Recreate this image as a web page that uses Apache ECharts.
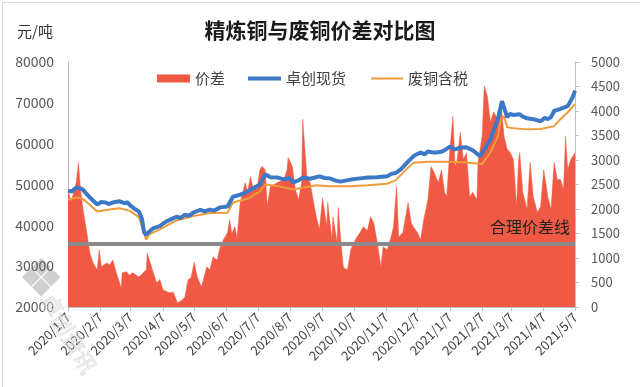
<!DOCTYPE html>
<html>
<head>
<meta charset="utf-8">
<script src="https://cdn.jsdelivr.net/npm/echarts@6/dist/echarts.min.js"></script>
<style>html,body{margin:0;padding:0;background:#fff}#c{width:640px;height:387px}</style>
</head>
<body>
<div id="c"></div>
<script>
// ---- data ----
const tickDates = ['2020-01-07','2020-02-07','2020-03-07','2020-04-07','2020-05-07','2020-06-07','2020-07-07','2020-08-07','2020-09-07','2020-10-07','2020-11-07','2020-12-07','2021-01-07','2021-02-07','2021-03-07','2021-04-07','2021-05-07'];

// 价差 (right axis)
const spreadDates = ['2020-01-07','2020-01-08','2020-01-10','2020-01-12','2020-01-15','2020-01-17','2020-01-19','2020-01-21','2020-01-25','2020-01-28','2020-01-31','2020-02-04','2020-02-06','2020-02-08','2020-02-13','2020-02-16','2020-02-19','2020-02-22','2020-02-27','2020-02-28','2020-03-03','2020-03-06','2020-03-09','2020-03-15','2020-03-22','2020-03-23','2020-03-27','2020-04-01','2020-04-04','2020-04-07','2020-04-13','2020-04-17','2020-04-21','2020-04-25','2020-04-28','2020-05-01','2020-05-04','2020-05-07','2020-05-10','2020-05-14','2020-05-19','2020-05-22','2020-05-25','2020-05-29','2020-06-01','2020-06-04','2020-06-08','2020-06-10','2020-06-12','2020-06-15','2020-06-17','2020-06-20','2020-06-25','2020-06-27','2020-06-30','2020-07-02','2020-07-06','2020-07-09','2020-07-11','2020-07-14','2020-07-16','2020-07-19','2020-07-26','2020-08-01','2020-08-04','2020-08-05','2020-08-09','2020-08-12','2020-08-15','2020-08-18','2020-08-19','2020-08-23','2020-08-26','2020-08-29','2020-09-01','2020-09-04','2020-09-07','2020-09-11','2020-09-12','2020-09-16','2020-09-17','2020-09-21','2020-09-22','2020-09-25','2020-09-27','2020-10-01','2020-10-04','2020-10-07','2020-10-10','2020-10-13','2020-10-16','2020-10-20','2020-10-23','2020-10-26','2020-10-29','2020-11-02','2020-11-04','2020-11-08','2020-11-11','2020-11-14','2020-11-17','2020-11-19','2020-11-23','2020-11-28','2020-12-01','2020-12-03','2020-12-07','2020-12-10','2020-12-13','2020-12-17','2020-12-20','2020-12-23','2020-12-27','2020-12-30','2021-01-02','2021-01-04','2021-01-07','2021-01-10','2021-01-12','2021-01-14','2021-01-17','2021-01-20','2021-01-23','2021-01-26','2021-01-29','2021-02-02','2021-02-03','2021-02-07','2021-02-09','2021-02-12','2021-02-15','2021-02-18','2021-02-22','2021-02-25','2021-02-28','2021-03-03','2021-03-06','2021-03-09','2021-03-12','2021-03-14','2021-03-15','2021-03-18','2021-03-22','2021-03-25','2021-03-28','2021-04-01','2021-04-04','2021-04-07','2021-04-11','2021-04-14','2021-04-17','2021-04-20','2021-04-23','2021-04-26','2021-04-28','2021-04-30','2021-05-03','2021-05-07'];
const spreadValues = [2350,2300,2150,2300,2550,2950,2400,2050,1520,1100,900,760,1170,820,900,860,960,720,390,700,720,650,700,610,760,1100,820,490,560,350,290,300,80,140,200,550,600,920,600,410,820,760,1020,960,1230,1370,1520,1780,1500,1640,1400,2130,2540,2340,2660,2460,2400,2800,2870,2800,2050,2460,2540,2600,2800,3050,2870,2400,2190,2540,3830,2660,2540,2190,1840,1580,2230,1640,2130,1370,1840,1310,2030,1230,800,760,1170,1310,1430,1520,1640,1560,1840,1720,1370,820,1230,1170,1370,1640,2460,1430,1520,2130,1720,1640,1520,1370,1780,2190,2870,2740,2540,2800,2340,2250,3210,3890,2870,3000,3560,3010,3150,2250,2340,2190,2950,3480,4510,4300,3770,3980,3830,4180,3480,3220,3150,3010,2050,3010,3150,2340,1990,2950,2250,1930,2050,2800,2250,1990,2950,2600,2600,2400,3480,2800,3010,3150];

// 卓创现货 (left axis)
const spotDates = ['2020-01-07','2020-01-11','2020-01-13','2020-01-16','2020-01-21','2020-01-28','2020-02-04','2020-02-08','2020-02-12','2020-02-15','2020-02-19','2020-02-25','2020-03-02','2020-03-04','2020-03-06','2020-03-11','2020-03-15','2020-03-18','2020-03-20','2020-03-22','2020-03-25','2020-03-29','2020-04-04','2020-04-07','2020-04-10','2020-04-14','2020-04-20','2020-04-24','2020-04-28','2020-05-02','2020-05-06','2020-05-13','2020-05-17','2020-05-22','2020-05-26','2020-06-01','2020-06-08','2020-06-13','2020-06-20','2020-06-24','2020-06-27','2020-07-02','2020-07-09','2020-07-14','2020-07-19','2020-07-26','2020-08-02','2020-08-06','2020-08-10','2020-08-15','2020-08-19','2020-08-26','2020-09-04','2020-09-09','2020-09-14','2020-09-19','2020-09-24','2020-10-04','2020-10-13','2020-10-20','2020-10-29','2020-11-08','2020-11-12','2020-11-16','2020-11-21','2020-11-28','2020-12-03','2020-12-07','2020-12-10','2020-12-14','2020-12-17','2020-12-23','2020-12-30','2021-01-04','2021-01-07','2021-01-12','2021-01-17','2021-01-23','2021-01-29','2021-02-05','2021-02-15','2021-02-22','2021-02-26','2021-03-03','2021-03-06','2021-03-09','2021-03-15','2021-03-18','2021-03-22','2021-03-28','2021-04-04','2021-04-08','2021-04-11','2021-04-14','2021-04-17','2021-04-23','2021-04-30','2021-05-05','2021-05-07'];
const spotValues = [48500,48300,48900,49300,48800,46800,45100,45700,45600,45200,45600,45900,45400,45700,45000,44000,43400,41500,38200,37700,38500,39300,39800,40400,40900,41400,42100,41800,42600,42300,43100,43800,43400,43850,43600,44400,44600,47000,47500,47900,48300,49000,50000,52500,51800,51700,51200,51600,50500,51000,51700,51400,52000,51600,51500,51000,50700,51200,51500,51700,51800,52000,52600,52800,53700,55600,56900,57500,57800,57400,58100,57800,58000,58700,59300,58600,59000,59100,58400,56900,61100,66000,70400,66500,67300,67000,67200,66600,66200,66000,65500,66300,66000,66500,68000,68500,69200,71500,73000];

// 废铜含税 (left axis)
const scrapDates = ['2020-01-07','2020-01-16','2020-01-21','2020-01-28','2020-02-04','2020-02-19','2020-02-25','2020-03-06','2020-03-15','2020-03-18','2020-03-22','2020-03-25','2020-04-04','2020-04-20','2020-05-06','2020-05-22','2020-06-08','2020-06-13','2020-06-27','2020-07-09','2020-07-14','2020-07-26','2020-08-10','2020-08-19','2020-09-01','2020-09-14','2020-10-04','2020-10-20','2020-11-08','2020-11-16','2020-11-25','2020-12-03','2020-12-17','2021-01-07','2021-01-23','2021-02-07','2021-02-15','2021-02-22','2021-02-25','2021-02-28','2021-03-03','2021-03-09','2021-03-22','2021-04-04','2021-04-17','2021-04-23','2021-04-30','2021-05-07'];
const scrapValues = [46300,46800,46500,45000,43400,44000,44200,43600,42000,39500,36500,37800,39000,41200,42300,43000,43100,45600,46500,48300,50000,49600,48800,49200,49800,49600,49600,49800,50200,51000,53400,55300,55600,55600,55400,55000,57900,61800,66000,66700,64000,63800,63500,63600,64300,66000,67700,69700];

const reasonableSpread = 1300;

// ---- build ----
const ts = s => { const p = s.split('-'); return +new Date(+p[0], +p[1] - 1, +p[2]); };
const pair = (ds, vs) => ds.map((d, i) => [ts(d), vs[i]]);
const tickTs = tickDates.map(ts);
const FONT = '"Noto Sans CJK SC", "Microsoft YaHei", sans-serif';

const chart = echarts.init(document.getElementById('c'));
chart.setOption({
  animation: false,
  backgroundColor: '#ffffff',
  textStyle: { fontFamily: FONT },
  title: [
    { text: '精炼铜与废铜价差对比图', left: 'center', top: 15,
      textStyle: { fontSize: 21, fontWeight: 'bold', color: '#1a1a1a', fontFamily: FONT } },
    { text: '元/吨', left: 12, top: 19,
      textStyle: { fontSize: 15, fontWeight: 'normal', color: '#333', fontFamily: FONT } }
  ],
  legend: [
    { data: ['价差'], left: 152, top: 66, icon: 'rect', itemWidth: 33, itemHeight: 8,
      textStyle: { fontSize: 15, color: '#404040', fontFamily: FONT } },
    { data: ['卓创现货'], left: 243, top: 66, icon: 'rect', itemWidth: 33, itemHeight: 4,
      textStyle: { fontSize: 15, color: '#404040', fontFamily: FONT } },
    { data: ['废铜含税'], left: 366, top: 66, icon: 'rect', itemWidth: 32, itemHeight: 2,
      textStyle: { fontSize: 15, color: '#404040', fontFamily: FONT } }
  ],
  grid: { left: 68, right: 65, top: 62, bottom: 80, containLabel: false },
  xAxis: {
    type: 'value',
    min: tickTs[0], max: tickTs[tickTs.length - 1],
    axisLine: { show: true, onZero: false, lineStyle: { color: '#bfbfbf', width: 1 } },
    axisTick: { show: true, customValues: tickTs, length: 4, lineStyle: { color: '#bfbfbf' } },
    axisLabel: {
      customValues: tickTs, rotate: 45, margin: 8, fontSize: 13, color: '#404040', fontFamily: FONT,
      formatter: v => { const d = new Date(v); return d.getFullYear() + '/' + (d.getMonth() + 1) + '/' + d.getDate(); }
    },
    splitLine: { show: false }
  },
  yAxis: [
    { type: 'value', min: 20000, max: 80000, interval: 10000,
      axisLine: { show: true, lineStyle: { color: '#bfbfbf' } },
      axisTick: { show: false },
      axisLabel: { fontSize: 14, color: '#595959', margin: 14, fontFamily: FONT, formatter: v => String(v) },
      splitLine: { show: false } },
    { type: 'value', min: 0, max: 5000, interval: 500, position: 'right',
      axisLine: { show: true, lineStyle: { color: '#bfbfbf' } },
      axisTick: { show: true, length: 4, lineStyle: { color: '#bfbfbf' } },
      axisLabel: { fontSize: 13, color: '#595959', margin: 16, fontFamily: FONT, formatter: v => String(v) },
      splitLine: { show: false } }
  ],
  series: [
    { name: '价差', type: 'line', yAxisIndex: 1, data: pair(spreadDates, spreadValues),
      showSymbol: false, symbol: 'none', color: '#f05a44',
      lineStyle: { width: 0.5, color: '#f05a44' },
      areaStyle: { color: '#f05a44', opacity: 1 },
      z: 1,
      markLine: {
        silent: true, symbol: 'none',
        lineStyle: { color: '#8a8a8a', width: 4, type: 'solid' },
        label: { show: true, position: 'insideEndTop', formatter: '合理价差线', fontSize: 16,
          color: '#1f1f1f', fontFamily: FONT, distance: [5, 8] },
        data: [{ yAxis: reasonableSpread }]
      }
    },
    { name: '废铜含税', type: 'line', yAxisIndex: 0, data: pair(scrapDates, scrapValues),
      showSymbol: false, symbol: 'none', color: '#ee9b3a',
      lineStyle: { width: 2, color: '#ee9b3a' }, z: 3 },
    { name: '卓创现货', type: 'line', yAxisIndex: 0, data: pair(spotDates, spotValues),
      showSymbol: false, symbol: 'none', color: '#3d78c6',
      lineStyle: { width: 4, color: '#3d78c6' }, z: 4 }
  ],
  graphic: [
    { type: 'rect', left: 0, top: 0, shape: { width: 639, height: 386 }, silent: true,
      style: { fill: 'none', stroke: '#d9d9d9', lineWidth: 1 } },
    { type: 'group', left: 22, top: 258, silent: true, children: [
      { type: 'rect', shape: { x: 0, y: 0, width: 13, height: 13 }, rotation: Math.PI / 4, x: 16, y: 0, style: { fill: '#cfcfcf' } },
      { type: 'rect', shape: { x: 0, y: 0, width: 13, height: 13 }, rotation: Math.PI / 4, x: 6, y: 10, style: { fill: '#cfcfcf' } },
      { type: 'rect', shape: { x: 0, y: 0, width: 13, height: 13 }, rotation: Math.PI / 4, x: 26, y: 10, style: { fill: '#cfcfcf' } },
      { type: 'rect', shape: { x: 0, y: 0, width: 13, height: 13 }, rotation: Math.PI / 4, x: 16, y: 20, style: { fill: '#cfcfcf' } }
    ] },
    { type: 'text', x: 56, y: 290, rotation: -Math.PI / 3, silent: true, z: 100,
      style: { text: '卓创资讯', fontSize: 22, fill: 'none', stroke: '#d8d8d8', lineWidth: 1, opacity: 0.8, fontFamily: FONT } }
  ]
});
</script>
</body>
</html>
